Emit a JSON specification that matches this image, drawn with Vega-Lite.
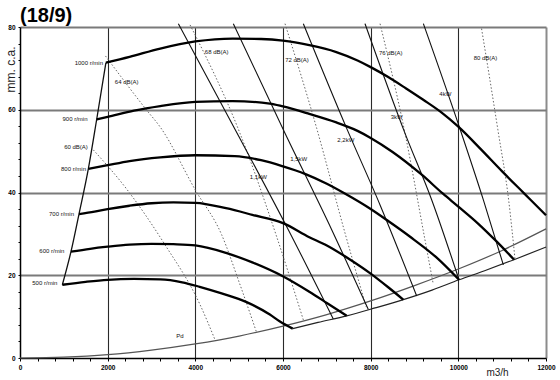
{
  "$schema": "https://vega.github.io/schema/vega-lite/v6.json",
  "width": 526,
  "height": 331,
  "autosize": "none",
  "padding": {"left": 20, "top": 27, "right": 14, "bottom": 22},
  "background": "white",
  "title": {"text": "(18/9)", "anchor": "start", "frame": "group", "font": "Liberation Sans", "fontSize": 20, "fontWeight": "bold", "color": "#000", "offset": -5},
  "config": {"view": {"stroke": null}, "font": "Liberation Sans"},
  "datasets": {
    "lines": [
      {"s": "r500", "k": "rpm", "x": 966, "y": 17.7}, {"s": "r500", "k": "rpm", "x": 1500, "y": 18.4}, {"s": "r500", "k": "rpm", "x": 2000, "y": 18.9}, {"s": "r500", "k": "rpm", "x": 2600, "y": 19.1}, {"s": "r500", "k": "rpm", "x": 3200, "y": 19.0}, {"s": "r500", "k": "rpm", "x": 3700, "y": 18.3}, {"s": "r500", "k": "rpm", "x": 4100, "y": 17.2}, {"s": "r500", "k": "rpm", "x": 4600, "y": 15.6}, {"s": "r500", "k": "rpm", "x": 5170, "y": 13.5}, {"s": "r500", "k": "rpm", "x": 5700, "y": 10.5}, {"s": "r500", "k": "rpm", "x": 5930, "y": 8.8}, {"s": "r500", "k": "rpm", "x": 6222, "y": 7.1},
      {"s": "r600", "k": "rpm", "x": 1163, "y": 25.7}, {"s": "r600", "k": "rpm", "x": 1600, "y": 26.4}, {"s": "r600", "k": "rpm", "x": 2000, "y": 26.9}, {"s": "r600", "k": "rpm", "x": 2500, "y": 27.4}, {"s": "r600", "k": "rpm", "x": 3000, "y": 27.6}, {"s": "r600", "k": "rpm", "x": 3500, "y": 27.5}, {"s": "r600", "k": "rpm", "x": 4000, "y": 27.2}, {"s": "r600", "k": "rpm", "x": 4700, "y": 25.4}, {"s": "r600", "k": "rpm", "x": 5300, "y": 23.1}, {"s": "r600", "k": "rpm", "x": 5985, "y": 19.8}, {"s": "r600", "k": "rpm", "x": 6600, "y": 16.0}, {"s": "r600", "k": "rpm", "x": 7000, "y": 13.3}, {"s": "r600", "k": "rpm", "x": 7453, "y": 10.2},
      {"s": "r700", "k": "rpm", "x": 1346, "y": 34.8}, {"s": "r700", "k": "rpm", "x": 1700, "y": 35.4}, {"s": "r700", "k": "rpm", "x": 2000, "y": 36.0}, {"s": "r700", "k": "rpm", "x": 2500, "y": 36.8}, {"s": "r700", "k": "rpm", "x": 3000, "y": 37.4}, {"s": "r700", "k": "rpm", "x": 3500, "y": 37.6}, {"s": "r700", "k": "rpm", "x": 4000, "y": 37.5}, {"s": "r700", "k": "rpm", "x": 4700, "y": 36.2}, {"s": "r700", "k": "rpm", "x": 5300, "y": 34.6}, {"s": "r700", "k": "rpm", "x": 6000, "y": 32.6}, {"s": "r700", "k": "rpm", "x": 6600, "y": 29.2}, {"s": "r700", "k": "rpm", "x": 7000, "y": 27.2}, {"s": "r700", "k": "rpm", "x": 7500, "y": 24.0}, {"s": "r700", "k": "rpm", "x": 8000, "y": 20.4}, {"s": "r700", "k": "rpm", "x": 8400, "y": 17.1}, {"s": "r700", "k": "rpm", "x": 8745, "y": 14.1},
      {"s": "r800", "k": "rpm", "x": 1559, "y": 45.7}, {"s": "r800", "k": "rpm", "x": 2000, "y": 46.6}, {"s": "r800", "k": "rpm", "x": 2500, "y": 47.6}, {"s": "r800", "k": "rpm", "x": 3200, "y": 48.5}, {"s": "r800", "k": "rpm", "x": 4000, "y": 49.0}, {"s": "r800", "k": "rpm", "x": 4900, "y": 48.8}, {"s": "r800", "k": "rpm", "x": 5500, "y": 47.8}, {"s": "r800", "k": "rpm", "x": 6000, "y": 46.3}, {"s": "r800", "k": "rpm", "x": 6500, "y": 44.5}, {"s": "r800", "k": "rpm", "x": 7000, "y": 42.1}, {"s": "r800", "k": "rpm", "x": 7400, "y": 39.8}, {"s": "r800", "k": "rpm", "x": 8000, "y": 36.0}, {"s": "r800", "k": "rpm", "x": 8400, "y": 33.1}, {"s": "r800", "k": "rpm", "x": 8900, "y": 29.3}, {"s": "r800", "k": "rpm", "x": 9500, "y": 24.3}, {"s": "r800", "k": "rpm", "x": 10016, "y": 18.9},
      {"s": "r900", "k": "rpm", "x": 1750, "y": 57.7}, {"s": "r900", "k": "rpm", "x": 2000, "y": 58.3}, {"s": "r900", "k": "rpm", "x": 2600, "y": 59.8}, {"s": "r900", "k": "rpm", "x": 3200, "y": 60.9}, {"s": "r900", "k": "rpm", "x": 4000, "y": 61.9}, {"s": "r900", "k": "rpm", "x": 4850, "y": 62.1}, {"s": "r900", "k": "rpm", "x": 5700, "y": 61.5}, {"s": "r900", "k": "rpm", "x": 6000, "y": 60.8}, {"s": "r900", "k": "rpm", "x": 6600, "y": 59.0}, {"s": "r900", "k": "rpm", "x": 7200, "y": 57.0}, {"s": "r900", "k": "rpm", "x": 7700, "y": 54.9}, {"s": "r900", "k": "rpm", "x": 8000, "y": 53.2}, {"s": "r900", "k": "rpm", "x": 8500, "y": 49.8}, {"s": "r900", "k": "rpm", "x": 9165, "y": 44.3}, {"s": "r900", "k": "rpm", "x": 9650, "y": 39.7}, {"s": "r900", "k": "rpm", "x": 10000, "y": 36.6}, {"s": "r900", "k": "rpm", "x": 10450, "y": 32.5}, {"s": "r900", "k": "rpm", "x": 10860, "y": 28.3}, {"s": "r900", "k": "rpm", "x": 11270, "y": 23.8},
      {"s": "r1000", "k": "rpm", "x": 1960, "y": 71.4}, {"s": "r1000", "k": "rpm", "x": 2500, "y": 72.8}, {"s": "r1000", "k": "rpm", "x": 3200, "y": 74.8}, {"s": "r1000", "k": "rpm", "x": 4000, "y": 76.5}, {"s": "r1000", "k": "rpm", "x": 4850, "y": 77.2}, {"s": "r1000", "k": "rpm", "x": 5500, "y": 77.1}, {"s": "r1000", "k": "rpm", "x": 6000, "y": 76.7}, {"s": "r1000", "k": "rpm", "x": 6600, "y": 75.6}, {"s": "r1000", "k": "rpm", "x": 7200, "y": 74.0}, {"s": "r1000", "k": "rpm", "x": 7700, "y": 71.9}, {"s": "r1000", "k": "rpm", "x": 8000, "y": 70.3}, {"s": "r1000", "k": "rpm", "x": 8400, "y": 67.9}, {"s": "r1000", "k": "rpm", "x": 8800, "y": 65.2}, {"s": "r1000", "k": "rpm", "x": 9200, "y": 62.4}, {"s": "r1000", "k": "rpm", "x": 9620, "y": 59.3}, {"s": "r1000", "k": "rpm", "x": 10000, "y": 55.9}, {"s": "r1000", "k": "rpm", "x": 10500, "y": 50.6}, {"s": "r1000", "k": "rpm", "x": 11000, "y": 45.1}, {"s": "r1000", "k": "rpm", "x": 11500, "y": 39.8}, {"s": "r1000", "k": "rpm", "x": 12000, "y": 34.5},
      {"s": "pd", "k": "pd", "x": 0, "y": 0}, {"s": "pd", "k": "pd", "x": 1000, "y": 0.2}, {"s": "pd", "k": "pd", "x": 2000, "y": 0.8}, {"s": "pd", "k": "pd", "x": 3000, "y": 1.9}, {"s": "pd", "k": "pd", "x": 4000, "y": 3.4}, {"s": "pd", "k": "pd", "x": 5000, "y": 5.3}, {"s": "pd", "k": "pd", "x": 6000, "y": 7.7}, {"s": "pd", "k": "pd", "x": 7000, "y": 10.5}, {"s": "pd", "k": "pd", "x": 8000, "y": 13.8}, {"s": "pd", "k": "pd", "x": 9000, "y": 17.5}, {"s": "pd", "k": "pd", "x": 10000, "y": 21.5}, {"s": "pd", "k": "pd", "x": 11000, "y": 26.0}, {"s": "pd", "k": "pd", "x": 12000, "y": 31.2},
      {"s": "lim", "k": "lim", "x": 6222, "y": 7.1}, {"s": "lim", "k": "lim", "x": 6800, "y": 8.6}, {"s": "lim", "k": "lim", "x": 7453, "y": 10.2}, {"s": "lim", "k": "lim", "x": 8100, "y": 12.1}, {"s": "lim", "k": "lim", "x": 8745, "y": 14.1}, {"s": "lim", "k": "lim", "x": 9400, "y": 16.4}, {"s": "lim", "k": "lim", "x": 10016, "y": 18.9}, {"s": "lim", "k": "lim", "x": 10600, "y": 21.1}, {"s": "lim", "k": "lim", "x": 11255, "y": 23.7}, {"s": "lim", "k": "lim", "x": 12000, "y": 26.8},
      {"s": "left", "k": "left", "x": 966, "y": 17.7}, {"s": "left", "k": "left", "x": 1163, "y": 25.7}, {"s": "left", "k": "left", "x": 1346, "y": 34.8}, {"s": "left", "k": "left", "x": 1559, "y": 45.7}, {"s": "left", "k": "left", "x": 1750, "y": 57.7}, {"s": "left", "k": "left", "x": 1960, "y": 71.4},
      {"s": "kw1", "k": "kw", "x": 3613, "y": 80.8}, {"s": "kw1", "k": "kw", "x": 4981, "y": 53.8}, {"s": "kw1", "k": "kw", "x": 6121, "y": 31.0}, {"s": "kw1", "k": "kw", "x": 7149, "y": 9.4},
      {"s": "kw2", "k": "kw", "x": 4867, "y": 80.8}, {"s": "kw2", "k": "kw", "x": 6046, "y": 54.3}, {"s": "kw2", "k": "kw", "x": 7111, "y": 31.0}, {"s": "kw2", "k": "kw", "x": 7947, "y": 11.7},
      {"s": "kw3", "k": "kw", "x": 6464, "y": 80.8}, {"s": "kw3", "k": "kw", "x": 7453, "y": 55.5}, {"s": "kw3", "k": "kw", "x": 8214, "y": 37.0}, {"s": "kw3", "k": "kw", "x": 9050, "y": 15.0},
      {"s": "kw4", "k": "kw", "x": 7871, "y": 80.8}, {"s": "kw4", "k": "kw", "x": 8784, "y": 54.3}, {"s": "kw4", "k": "kw", "x": 9393, "y": 38.2}, {"s": "kw4", "k": "kw", "x": 10016, "y": 18.9},
      {"s": "kw5", "k": "kw", "x": 9202, "y": 80.8}, {"s": "kw5", "k": "kw", "x": 10046, "y": 55.1}, {"s": "kw5", "k": "kw", "x": 10571, "y": 38.2}, {"s": "kw5", "k": "kw", "x": 11027, "y": 22.5},
      {"s": "db60", "k": "db", "x": 1673, "y": 50.3}, {"s": "db60", "k": "db", "x": 2450, "y": 40.6}, {"s": "db60", "k": "db", "x": 3300, "y": 27.5}, {"s": "db60", "k": "db", "x": 4107, "y": 12.9}, {"s": "db60", "k": "db", "x": 4449, "y": 4.4},
      {"s": "db64", "k": "db", "x": 1950, "y": 73.0}, {"s": "db64", "k": "db", "x": 2890, "y": 59.9}, {"s": "db64", "k": "db", "x": 3200, "y": 55.8}, {"s": "db64", "k": "db", "x": 4000, "y": 40.6}, {"s": "db64", "k": "db", "x": 4600, "y": 29.8}, {"s": "db64", "k": "db", "x": 5000, "y": 18.3}, {"s": "db64", "k": "db", "x": 5400, "y": 6.1},
      {"s": "db68", "k": "db", "x": 3880, "y": 80.5}, {"s": "db68", "k": "db", "x": 5019, "y": 54.3}, {"s": "db68", "k": "db", "x": 5850, "y": 29.5}, {"s": "db68", "k": "db", "x": 6464, "y": 9.2},
      {"s": "db72", "k": "db", "x": 6046, "y": 80.8}, {"s": "db72", "k": "db", "x": 6769, "y": 55.5}, {"s": "db72", "k": "db", "x": 7420, "y": 30.0}, {"s": "db72", "k": "db", "x": 7900, "y": 12.3},
      {"s": "db76", "k": "db", "x": 8214, "y": 80.8}, {"s": "db76", "k": "db", "x": 8784, "y": 54.3}, {"s": "db76", "k": "db", "x": 9240, "y": 28.5}, {"s": "db76", "k": "db", "x": 9420, "y": 18.3},
      {"s": "db80", "k": "db", "x": 10530, "y": 79.6}, {"s": "db80", "k": "db", "x": 10900, "y": 55.3}, {"s": "db80", "k": "db", "x": 11150, "y": 38.0}, {"s": "db80", "k": "db", "x": 11294, "y": 23.8}
    ],
    "labels": [
      {"t": "1000 r/min", "g": "rpm", "x": 1894, "y": 71.2},
      {"t": "900 r/min", "g": "rpm", "x": 1540, "y": 57.7},
      {"t": "800 r/min", "g": "rpm", "x": 1506, "y": 45.8},
      {"t": "700 r/min", "g": "rpm", "x": 1232, "y": 34.8},
      {"t": "600 r/min", "g": "rpm", "x": 1011, "y": 25.9},
      {"t": "500 r/min", "g": "rpm", "x": 851, "y": 18.1},
      {"t": "60 dB(A)", "g": "o", "x": 1278, "y": 51.0},
      {"t": "64 dB(A)", "g": "o", "x": 2434, "y": 66.7},
      {"t": "68 dB(A)", "g": "o", "x": 4487, "y": 74.0},
      {"t": "72 dB(A)", "g": "o", "x": 6319, "y": 72.0},
      {"t": "76 dB(A)", "g": "o", "x": 8459, "y": 73.8},
      {"t": "80 dB(A)", "g": "o", "x": 10620, "y": 72.6},
      {"t": "1,1kW", "g": "o", "x": 5437, "y": 43.7},
      {"t": "1,5kW", "g": "o", "x": 6358, "y": 48.0},
      {"t": "2,2kW", "g": "o", "x": 7433, "y": 52.7},
      {"t": "3kW", "g": "o", "x": 8594, "y": 58.3},
      {"t": "4kW", "g": "o", "x": 9703, "y": 63.8},
      {"t": "Pd", "g": "o", "x": 3650, "y": 5.4}
    ]
  },
  "encoding": {
    "x": {
      "field": "x", "type": "quantitative",
      "scale": {"domain": [0, 12000], "nice": false, "zero": false},
      "axis": {
        "values": [0,400,800,1200,1600,2000,2400,2800,3200,3600,4000,4400,4800,5200,5600,6000,6400,6800,7200,7600,8000,8400,8800,9200,9600,10000,10400,10800,11200,11600,12000],
        "format": "d",
        "labelExpr": "datum.value % 2000 === 0 ? datum.label : ''",
        "labelOverlap": false, "labelFlush": false,
        "labelFont": "Liberation Sans", "labelFontSize": 6.5, "labelFontWeight": "bold", "labelColor": "#000", "labelPadding": 3,
        "tickColor": "#000", "tickSize": 3, "tickWidth": 1,
        "domainColor": "#000", "domainWidth": 1.5,
        "grid": true,
        "gridColor": {"condition": {"test": "datum.value === 12000", "value": "#8c8c8c"}, "value": "#2a2a2a"},
        "gridWidth": {"condition": {"test": "datum.value === 12000", "value": 2}, "value": 1.1},
        "gridOpacity": {"condition": {"test": "datum.value % 2000 === 0 && datum.value > 0", "value": 1}, "value": 0},
        "title": "m3/h", "titleFont": "Liberation Sans", "titleFontSize": 10, "titleFontWeight": "normal", "titleColor": "#222",
        "titleX": 477, "titleY": 17, "titleAlign": "center", "titleBaseline": "alphabetic"
      }
    },
    "y": {
      "field": "y", "type": "quantitative",
      "scale": {"domain": [0, 80], "nice": false, "zero": false},
      "axis": {
        "values": [0,4,8,12,16,20,24,28,32,36,40,44,48,52,56,60,64,68,72,76,80],
        "labelExpr": "datum.value % 20 === 0 ? datum.label : ''",
        "labelOverlap": false,
        "labelFont": "Liberation Sans", "labelFontSize": 6.5, "labelFontWeight": "bold", "labelColor": "#000", "labelPadding": 3,
        "tickColor": "#000", "tickSize": 2, "tickWidth": 1,
        "domainColor": "#000", "domainWidth": 1.5,
        "grid": true,
        "gridColor": "#7a7a7a",
        "gridWidth": 1.8,
        "gridOpacity": {"condition": {"test": "datum.value % 20 === 0 && datum.value > 0", "value": 1}, "value": 0},
        "title": "mm. c.a.", "titleFont": "Liberation Sans", "titleFontSize": 12, "titleFontWeight": "normal", "titleColor": "#222",
        "titleX": -5.5, "titleY": 42, "titleAngle": -90, "titleAlign": "center", "titleBaseline": "alphabetic"
      }
    }
  },
  "layer": [
    {
      "data": {"name": "lines"},
      "transform": [{"filter": "datum.k === 'pd'"}],
      "mark": {"type": "line", "interpolate": "monotone", "color": "#555", "strokeWidth": 1.2},
      "encoding": {"detail": {"field": "s"}}
    },
    {
      "data": {"name": "lines"},
      "transform": [{"filter": "datum.k === 'lim'"}],
      "mark": {"type": "line", "interpolate": "monotone", "color": "#222", "strokeWidth": 1.2},
      "encoding": {"detail": {"field": "s"}}
    },
    {
      "data": {"name": "lines"},
      "transform": [{"filter": "datum.k === 'db'"}],
      "mark": {"type": "line", "interpolate": "monotone", "color": "#666", "strokeWidth": 1, "strokeDash": [1.5, 2]},
      "encoding": {"detail": {"field": "s"}}
    },
    {
      "data": {"name": "lines"},
      "transform": [{"filter": "datum.k === 'kw'"}],
      "mark": {"type": "line", "interpolate": "monotone", "color": "#111", "strokeWidth": 1.1},
      "encoding": {"detail": {"field": "s"}}
    },
    {
      "data": {"name": "lines"},
      "transform": [{"filter": "datum.k === 'left'"}],
      "mark": {"type": "line", "interpolate": "monotone", "color": "#111", "strokeWidth": 1.3},
      "encoding": {"detail": {"field": "s"}}
    },
    {
      "data": {"name": "lines"},
      "transform": [{"filter": "datum.k === 'rpm'"}],
      "mark": {"type": "line", "interpolate": "monotone", "color": "#000", "strokeWidth": 2.3},
      "encoding": {"detail": {"field": "s"}}
    },
    {
      "data": {"name": "labels"},
      "transform": [{"filter": "datum.g === 'rpm'"}],
      "mark": {"type": "text", "align": "right", "baseline": "middle", "font": "Liberation Sans", "fontSize": 6, "color": "#111"},
      "encoding": {"text": {"field": "t"}}
    },
    {
      "data": {"name": "labels"},
      "transform": [{"filter": "datum.g === 'o'"}],
      "mark": {"type": "text", "align": "center", "baseline": "middle", "font": "Liberation Sans", "fontSize": 6, "color": "#111"},
      "encoding": {"text": {"field": "t"}}
    }
  ]
}
